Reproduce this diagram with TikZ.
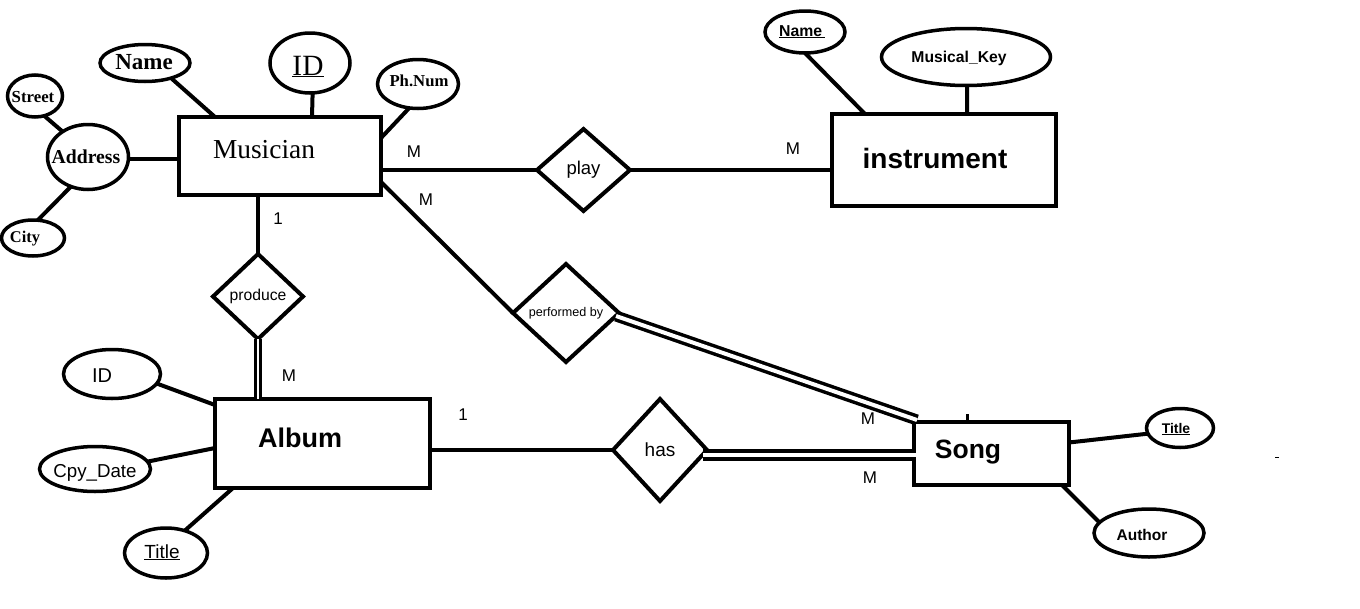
\documentclass[tikz,border=0pt]{standalone}
\usepackage{fontspec}
\newfontfamily\arialf{Liberation Sans}
\newfontfamily\serf{Liberation Serif}
\usetikzlibrary{shapes.geometric,calc}
\newcommand{\myfs}[1]{\fontsize{#1}{#1}\selectfont}
\begin{document}
\begin{tikzpicture}[x=1pt,y=-1pt,
  ent/.style={draw, rectangle, line width=4pt, inner sep=0pt, outer sep=0pt},
  attr/.style={draw, ellipse, line width=3.5pt, inner sep=0pt, outer sep=0pt},
  rel/.style={draw, diamond, line width=4pt, inner sep=0pt, outer sep=0pt},
  txt/.style={inner sep=0pt, outer sep=0pt, anchor=base},
  conn/.style={line width=4pt},
  dbl/.style={line width=3.5pt, double, double distance=4pt},
  card/.style={font=\arialf\myfs{17}, inner sep=0pt}]
\fill[white] (0,0) rectangle (1360,608);
\path[use as bounding box] (0,0) rectangle (1360,608);

% entities
\node[ent, minimum width=202pt, minimum height=78pt] (mus) at (280,156) {};
\node[ent, minimum width=224pt, minimum height=92pt] (inst) at (944,160) {};
\node[ent, minimum width=215pt, minimum height=89pt] (alb) at (322.5,443.5) {};
\node[ent, minimum width=155pt, minimum height=63pt] (song) at (991.5,453.5) {};
\node[txt, font=\serf\myfs{27.4}] (musT) at (264,158) {Musician};
\node[txt, font=\arialf\bfseries\myfs{28}] (instT) at (935,168) {instrument};
\node[txt, font=\arialf\bfseries\myfs{27}] (albT) at (300,447) {Album};
\node[txt, font=\arialf\bfseries\myfs{26.5}] (songT) at (968,458) {Song};

% relationships
\node[rel, minimum width=93pt, minimum height=82pt, font=\arialf\myfs{18.5}] (play) at (583.5,170) {play};
\node[rel, minimum width=90pt, minimum height=85pt, font=\arialf\myfs{15.7}] (prod) at (258,296.5) {produce};
\node[rel, minimum width=106pt, minimum height=98pt, font=\arialf\myfs{12.6}] (perf) at (566,313) {performed by};
\node[rel, minimum width=94pt, minimum height=102pt, font=\arialf\myfs{19}] (has) at (660,450) {has};

% Musician attributes
\node[attr, minimum width=90pt, minimum height=37pt] (mName) at (145,63) {};
\node[txt, font=\serf\bfseries\myfs{23}] (mNameT) at (144,69) {Name};
\node[attr, minimum width=80pt, minimum height=60pt] (mID) at (310,63) {};
\node[txt, font=\serf\myfs{29.4}] (mIDT) at (308,75) {\underline{ID}};
\node[attr, minimum width=81pt, minimum height=49pt] (mPh) at (418,84) {};
\node[txt, font=\serf\bfseries\myfs{16.7}] (mPhT) at (419,86) {Ph.Num};
\node[attr, minimum width=81pt, minimum height=65pt] (mAddr) at (88,157) {};
\node[txt, font=\serf\bfseries\myfs{19.7}] (mAddrT) at (86,163) {Address};
\node[attr, minimum width=55pt, minimum height=42pt] (mStreet) at (35,96) {};
\node[txt, font=\serf\bfseries\myfs{16.8}] (mStreetT) at (33,102) {Street};
\node[attr, minimum width=63pt, minimum height=36pt] (mCity) at (33,238) {};
\node[txt, font=\serf\bfseries\myfs{16.4}] (mCityT) at (25,242) {City};

% instrument attributes
\node[attr, minimum width=80pt, minimum height=42pt] (iName) at (805,32) {};
\node[txt, font=\arialf\bfseries\myfs{15.8}] (iNameT) at (802,36) {\underline{Name\,}};
\node[attr, minimum width=169pt, minimum height=57pt] (iKey) at (966,57) {};
\node[txt, font=\arialf\bfseries\myfs{15.7}] (iKeyT) at (959,62) {Musical\_Key};

% Album attributes
\node[attr, minimum width=97pt, minimum height=49pt] (aID) at (112,374) {};
\node[txt, font=\arialf\myfs{20}] (aIDT) at (102,382) {ID};
\node[attr, minimum width=111pt, minimum height=45pt] (aDate) at (95,469) {};
\node[txt, font=\arialf\myfs{18.7}] (aDateT) at (95,477) {Cpy\_Date};
\node[attr, minimum width=83pt, minimum height=50pt] (aTitle) at (166,553) {};
\node[txt, font=\arialf\myfs{19}] (aTitleT) at (162,558) {\underline{Title}};

% Song attributes
\node[attr, minimum width=67pt, minimum height=39pt] (sTitle) at (1180,428) {};
\node[txt, font=\arialf\bfseries\myfs{14}] (sTitleT) at (1176,433) {\underline{Title}};
\node[attr, minimum width=110pt, minimum height=48pt] (sAuthor) at (1149,533) {};
\node[txt, font=\arialf\bfseries\myfs{15.5}] (sAuthorT) at (1142,540) {Author};

% attribute connectors
\draw[conn] (mName.-30) -- ($(mus.north west)+(36,0)$);
\draw[conn] (mID.-85) -- ($(mus.north west)+(133,0)$);
\draw[conn] (mPh.-110) -- ($(mus.north east)+(0,21)$);
\draw[conn] ($(mAddr.east)+(0,2)$) -- ($(mAddr.east -| mus.west)+(0,2)$);
\draw[conn] (mStreet.-65) -- (mAddr.135);
\draw[conn] (mCity.75) -- (mAddr.-120);
\draw[conn] (iName.-90) -- ($(inst.north west)+(33,0)$);
\draw[conn] (iKey.-88) -- ($(inst.north west)+(135,0)$);
\draw[conn] (aID.-12) -- ($(alb.north west)+(0,6)$);
\draw[conn] (aDate.8) -- ($(alb.west)+(0,4.5)$);
\draw[conn] (aTitle.50) -- ($(alb.south west)+(18,0)$);
\draw[conn] ($(song.east)+(0,-11)$) -- (sTitle.-170);
\draw[conn] ($(song.south east)+(-7,0)$) -- (sAuthor.168);

% relationship connectors
\draw[conn] ($(mus.east)+(0,14)$) -- (play.west);
\draw[conn] (play.east) -- (play.east -| inst.west);
\draw[conn] ($(mus.south east)+(0,-13)$) -- (perf.west);
\draw[dbl] ($(perf.east)+(-3,3)$) -- ($(song.north west)+(3,-2)$);
\draw[conn] (prod.north) -- (prod.north |- mus.south);
\draw[line width=3pt, double, double distance=2pt] (prod.south) -- (prod.south |- alb.north);
\draw[conn] ($(alb.east)+(0,6.5)$) -- (has.west);
\draw[line width=4pt, double, double distance=4pt] ($(has.east)+(-4,5)$) -- ($(song.west)+(2,1.5)$);

% small marks
\draw[line width=3pt] ($(song.north west)+(53,0)$) -- ++(0,-8);
\draw[line width=3pt] ($(inst.south west)+(137,0)$) -- ++(0,2);
\coordinate (dashA) at (1275,457);
\draw[line width=1pt] (dashA) -- ++(4,0);

% cardinalities
\node[card] (c1) at (414,152) {M};
\node[card] (c2) at (793,149) {M};
\node[card] (c3) at (426,200) {M};
\node[card] (c4) at (278,219) {1};
\node[card] (c5) at (289,376) {M};
\node[card] (c6) at (463,415) {1};
\node[card] (c7) at (868,419) {M};
\node[card] (c8) at (870,478) {M};
\end{tikzpicture}
\end{document}
